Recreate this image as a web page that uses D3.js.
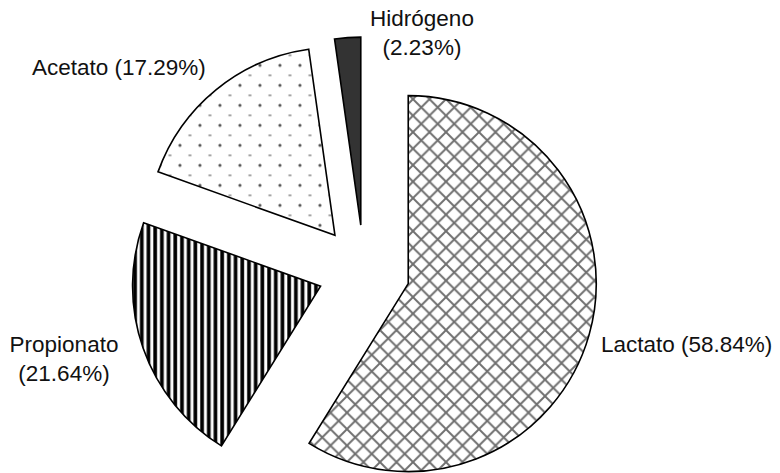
<!DOCTYPE html>
<html>
<head>
<meta charset="utf-8">
<script src="https://cdn.jsdelivr.net/npm/d3@7/dist/d3.min.js"></script>
<style>
  html, body { margin: 0; padding: 0; background: #fff; }
  svg { display: block; }
  text { font-family: "Liberation Sans", Arial, sans-serif; font-size: 22.5px; fill: #111; }
</style>
</head>
<body>
<svg id="chart" width="780" height="473"></svg>
<script>
// Fermentation products share (%)
const categories = ["Lactato", "Propionato", "Acetato", "Hidrógeno"];
const values = [58.84, 21.64, 17.29, 2.23];
const patterns = ["crosshatch", "stripes", "dots", "solid"];

// Layout
const W = 780, H = 473;
const cx = 364, cy = 271, radius = 188, explode = 46;

// Label placement: anchor point, text-anchor, and whether the value wraps to a second line
const labelLayout = {
  "Lactato":    { x: 601, y: 352, anchor: "start",  wrap: false },
  "Propionato": { x: 64,  y: 352, anchor: "middle", wrap: true },
  "Acetato":    { x: 32,  y: 75,  anchor: "start",  wrap: false },
  "Hidrógeno":  { x: 422, y: 26,  anchor: "middle", wrap: true }
};

const svg = d3.select("#chart");
const defs = svg.append("defs");

// Diagonal lattice (diamond crosshatch)
const ch = 16.5;
const pCross = defs.append("pattern")
  .attr("id", "crosshatch").attr("patternUnits", "userSpaceOnUse")
  .attr("width", ch).attr("height", ch).attr("x", 409 - ch / 2).attr("y", 96);
pCross.append("rect").attr("width", ch).attr("height", ch).attr("fill", "#fff");
pCross.append("path")
  .attr("d", `M0,0L${ch},${ch}M${ch},0L0,${ch}`)
  .attr("stroke", "#6f6f6f").attr("stroke-width", 1.9).attr("fill", "none");

// Vertical black/white stripes with soft grey edges
const sp = 6.7;
const pStripe = defs.append("pattern")
  .attr("id", "stripes").attr("patternUnits", "userSpaceOnUse")
  .attr("width", sp).attr("height", 10).attr("x", 0).attr("y", 0);
pStripe.append("rect").attr("width", sp).attr("height", 10).attr("fill", "#fff");
pStripe.append("rect").attr("x", 0).attr("width", 4.2).attr("height", 10).attr("fill", "#888");
pStripe.append("rect").attr("x", 0.5).attr("width", 3.2).attr("height", 10).attr("fill", "#000");

// Sparse dots with offset dashes
const dt = 20;
const pDots = defs.append("pattern")
  .attr("id", "dots").attr("patternUnits", "userSpaceOnUse")
  .attr("width", dt).attr("height", dt).attr("x", 0).attr("y", 5);
pDots.append("rect").attr("width", dt).attr("height", dt).attr("fill", "#fff");
pDots.append("circle").attr("cx", 5).attr("cy", 5).attr("r", 1.6).attr("fill", "#555");
pDots.append("rect").attr("x", 13.5).attr("y", 14.4).attr("width", 3).attr("height", 1.3).attr("fill", "#777");

const fills = {
  crosshatch: "url(#crosshatch)",
  stripes: "url(#stripes)",
  dots: "url(#dots)",
  solid: "#333333"
};

const pie = d3.pie().sort(null).startAngle(0).endAngle(2 * Math.PI);
const arcs = pie(values);
const arc = d3.arc().innerRadius(0).outerRadius(radius);

const g = svg.append("g").attr("transform", `translate(${cx},${cy})`);

g.selectAll("path.slice")
  .data(arcs)
  .join("path")
  .attr("class", "slice")
  .attr("transform", d => {
    const mid = (d.startAngle + d.endAngle) / 2;
    return `translate(${explode * Math.sin(mid)},${-explode * Math.cos(mid)})`;
  })
  .attr("d", arc)
  .attr("fill", (d, i) => fills[patterns[i]])
  .attr("stroke", "#000")
  .attr("stroke-width", 1.6)
  .attr("stroke-linejoin", "miter");

// Labels
const fmt = d3.format(".2f");
categories.forEach((name, i) => {
  const L = labelLayout[name];
  const pct = `(${fmt(values[i])}%)`;
  const t = svg.append("text")
    .attr("x", L.x).attr("y", L.y)
    .attr("text-anchor", L.anchor);
  if (L.wrap) {
    t.append("tspan").attr("x", L.x).text(name);
    t.append("tspan").attr("x", L.x).attr("dy", 29).text(pct);
  } else {
    t.text(`${name} ${pct}`);
  }
});
</script>
</body>
</html>
